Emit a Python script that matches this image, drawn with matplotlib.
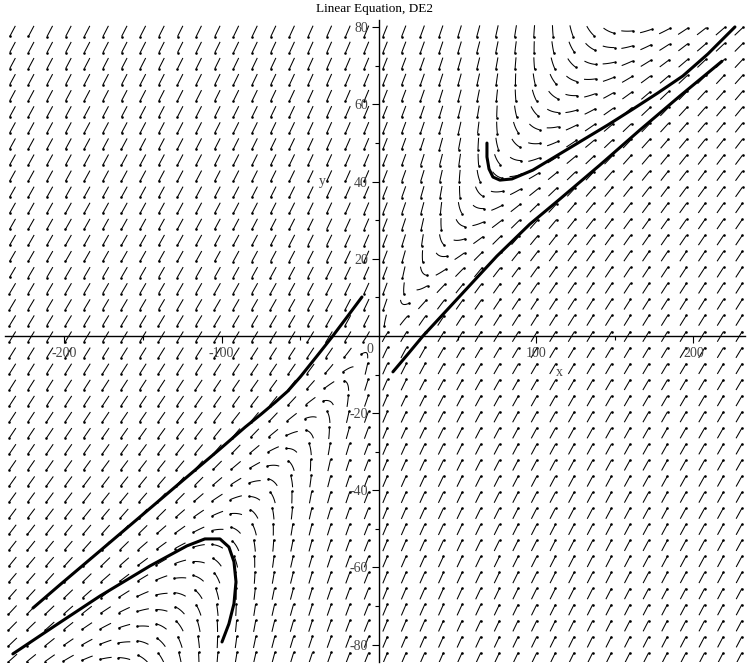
import numpy as np
import matplotlib
matplotlib.use("Agg")
import matplotlib.pyplot as plt
from matplotlib.collections import LineCollection

#--------------------------------------------------------------------
# linear system  x' = a*x + b*y ,  y' = c*x + d*y
#--------------------------------------------------------------------
coef_x = [0.75, -1.00]
coef_y = [0.50, -1.00]

# direction field grid (40 x 40 arrows)
grid_x = np.linspace(-233.0, 229.0, 40)
grid_y = np.linspace(-83.5, 79.0, 40)

# solution curves
upper_x = [68.7, 68.7, 70.0, 72.5, 76.9, 84.6, 97.9, 113.8, 129.7, 145.6,
           161.5, 177.4, 193.3, 209.2, 226.4]
upper_y = [50.0, 46.4, 43.3, 41.2, 40.4, 40.7, 43.0, 46.9, 50.8, 54.7,
           58.8, 63.0, 67.4, 73.1, 80.1]

right_x = [8.9, 18.4, 28.0, 43.9, 59.1, 75.0, 96.0, 115.1, 140.5, 166.0,
           191.4, 218.1]
right_y = [-9.3, -4.7, 0.0, 7.0, 13.7, 20.7, 29.0, 35.5, 44.3, 53.4,
           62.2, 71.2]

left_x = [-10.8, -20.3, -29.9, -40.0, -50.0, -58.0, -66.0, -75.0, -85.0,
          -101.1, -126.6, -152.0, -177.4, -202.9, -220.0]
left_y = [10.1, 4.9, -0.3, -5.5, -10.6, -14.3, -17.2, -20.3, -23.6,
          -29.3, -38.1, -46.9, -55.7, -64.5, -70.5]

lower_x = [-232.8, -206.0, -177.4, -145.6, -122.1, -110.7, -101.1, -95.4,
           -92.2, -90.9, -92.2, -95.4, -99.8]
lower_y = [-82.4, -75.1, -67.4, -59.6, -54.4, -52.6, -52.6, -54.7,
           -58.5, -63.7, -69.4, -74.6, -79.3]

x_ticks = [-200, -100, 100, 200]
x_tick_labels = ['-200', '-100', '100', '200']
x_minor = [-150, -50, 50, 150]
y_ticks = [-80, -60, -40, -20, 20, 40, 60, 80]
y_tick_labels = ['-80', '-60', '-40', '-20', '20', '40', '60', '80']
y_minor = [-70, -50, -30, -10, 10, 30, 50, 70]

TITLE = 'Linear Equation, DE2'

#--------------------------------------------------------------------
# figure
#--------------------------------------------------------------------
W, H = 750, 670
XLIM = (-237.8, 232.8)
YLIM = (-84.5, 81.9)
AX_PX = (5, 8, 740, 642)   # left, bottom, width, height in pixels

SX = AX_PX[2] / (XLIM[1] - XLIM[0])   # pixel per unit
SY = AX_PX[3] / (YLIM[1] - YLIM[0])

FONT = 'Liberation Serif'

fig = plt.figure(figsize=(W / 100, H / 100), dpi=100)
ax = fig.add_axes([AX_PX[0] / W, AX_PX[1] / H, AX_PX[2] / W, AX_PX[3] / H])
ax.set_xlim(*XLIM)
ax.set_ylim(*YLIM)
ax.set_facecolor('white')


def unit_step(X, Y, sign):
  # direction of the field, normalised to 1 pixel of path length
  u = coef_x[0] * X + coef_x[1] * Y
  v = coef_y[0] * X + coef_y[1] * Y
  U, V = u * SX, v * SY
  n = np.hypot(U, V)
  n[n == 0] = 1.0
  return sign * U / n / SX, sign * V / n / SY


def trace(X, Y, sign, length, nsteps):
  h = length / nsteps
  xs, ys = [X], [Y]
  for _ in range(nsteps):
    k1x, k1y = unit_step(X, Y, sign)
    k2x, k2y = unit_step(X + 0.5 * h * k1x, Y + 0.5 * h * k1y, sign)
    X = X + h * k2x
    Y = Y + h * k2y
    xs.append(X)
    ys.append(Y)
  return xs, ys


# curved arrows: short pieces of solution curves around each grid point
GX, GY = np.meshgrid(grid_x, grid_y)
GX = GX.ravel()
GY = GY.ravel()
fx, fy = trace(GX, GY, +1, 6.0, 6)
bx, by = trace(GX, GY, -1, 6.0, 6)
xs = np.array(bx[::-1] + fx[1:])
ys = np.array(by[::-1] + fy[1:])
segs = np.stack([xs.T, ys.T], axis=-1)

ax.add_collection(LineCollection(segs, colors='black', linewidths=0.75,
                                 zorder=1))
ax.scatter(fx[-1], fy[-1], s=3.5, c='black', linewidths=0, zorder=1)

# solution curves
for cx, cy in [(upper_x, upper_y), (right_x, right_y),
               (left_x, left_y), (lower_x, lower_y)]:
  ax.plot(cx, cy, color='black', lw=2.2, solid_capstyle='round',
          solid_joinstyle='round', zorder=3)

# axes through the origin
for side in ['top', 'right']:
  ax.spines[side].set_visible(False)
ax.spines['left'].set_position(('data', 0))
ax.spines['bottom'].set_position(('data', 0))
ax.spines['left'].set_linewidth(1.0)
ax.spines['bottom'].set_linewidth(1.0)
ax.spines['left'].set_zorder(2)
ax.spines['bottom'].set_zorder(2)

ax.set_xticks(x_ticks)
ax.set_xticklabels(x_tick_labels)
ax.set_xticks(x_minor, minor=True)
ax.set_yticks(y_ticks)
ax.set_yticklabels(y_tick_labels)
ax.set_yticks(y_minor, minor=True)

ax.tick_params(axis='both', which='major', direction='out', length=5,
               width=0.8, labelsize=10, labelcolor='#444444')
ax.tick_params(axis='x', which='major', pad=3)
ax.tick_params(axis='y', which='major', pad=3)
ax.tick_params(axis='both', which='minor', direction='out', length=3,
               width=0.8)
for lab in ax.get_xticklabels() + ax.get_yticklabels():
  lab.set_family(FONT)

ax.annotate('0', xy=(0, 0), xytext=(-9, -14), textcoords='offset pixels',
            ha='center', va='center', fontsize=10, color='#444444',
            family=FONT)

# axis labels
ax.text(115, -9.5, 'x', ha='center', va='center', fontsize=10,
        color='#444444', family=FONT)
ax.text(-36, 40, 'y', ha='center', va='center', fontsize=10,
        color='#444444', family=FONT)

fig.text(0.5, 1 - 9 / H, TITLE, ha='center', va='center', fontsize=9.5,
         family=FONT)

fig.savefig('out.png', dpi=100, facecolor='white')
